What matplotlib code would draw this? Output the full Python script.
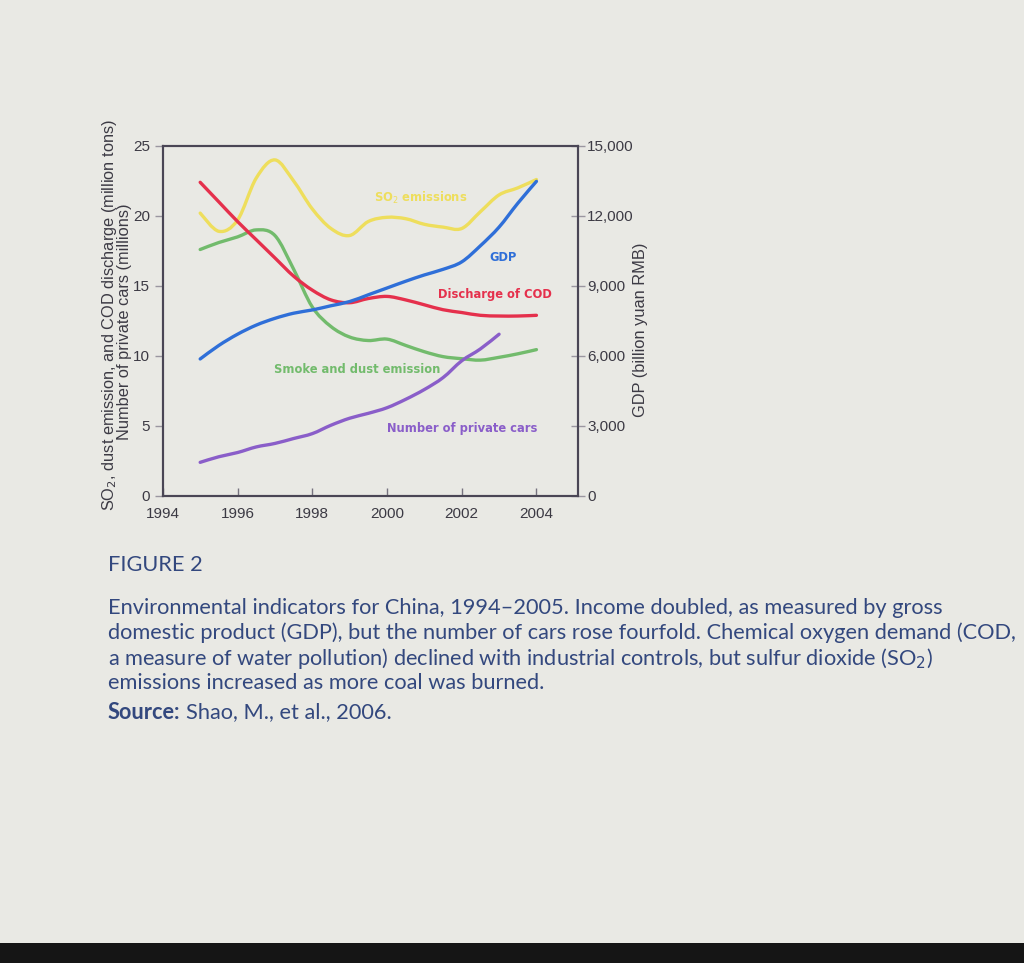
import matplotlib
matplotlib.use("Agg")
import matplotlib.pyplot as plt
from matplotlib.patches import Rectangle, PathPatch
from matplotlib.path import Path
import numpy as np

# ---------------- data ----------------
years_h = [1995.0, 1995.5, 1996.0, 1996.5, 1997.0, 1997.5, 1998.0, 1998.5, 1999.0,
           1999.5, 2000.0, 2000.5, 2001.0, 2001.5, 2002.0, 2002.5, 2003.0, 2003.5, 2004.0]

so2 = [20.2, 18.9, 19.7, 22.7, 24.0, 22.5, 20.5, 19.1, 18.6,
       19.6, 19.9, 19.8, 19.4, 19.2, 19.1, 20.3, 21.5, 22.0, 22.6]

cod = [22.4, 21.0, 19.6, 18.3, 17.0, 15.7, 14.7, 14.0, 13.8,
       14.1, 14.25, 14.0, 13.65, 13.3, 13.1, 12.9, 12.85, 12.85, 12.9]

smoke = [17.6, 18.1, 18.5, 19.0, 18.6, 16.2, 13.5, 12.1, 11.35,
         11.1, 11.2, 10.75, 10.3, 9.95, 9.8, 9.7, 9.9, 10.15, 10.45]

gdp = [5870, 6450, 6930, 7320, 7610, 7830, 7970, 8150, 8330,
       8620, 8910, 9200, 9470, 9710, 10030, 10720, 11520, 12540, 13480]

years_cars = [1995.0, 1995.5, 1996.0, 1996.5, 1997.0, 1997.5, 1998.0, 1998.5, 1999.0,
              1999.5, 2000.0, 2000.5, 2001.0, 2001.5, 2002.0, 2002.5, 2003.0]
cars = [2.4, 2.8, 3.1, 3.5, 3.75, 4.1, 4.45, 5.05, 5.55,
        5.9, 6.3, 6.9, 7.6, 8.45, 9.65, 10.5, 11.55]

x_ticks = [1994, 1996, 1998, 2000, 2002, 2004]
left_ticks = [0, 5, 10, 15, 20, 25]
right_ticks = [0, 3000, 6000, 9000, 12000, 15000]
right_labels = ["0", "3,000", "6,000", "9,000", "12,000", "15,000"]

caption_lines = [
    "Environmental indicators for China, 1994\u20132005. Income doubled, as measured by gross",
    "domestic product (GDP), but the number of cars rose fourfold. Chemical oxygen demand (COD,",
    "a measure of water pollution) declined with industrial controls, but sulfur dioxide (SO$_2$)",
    "emissions increased as more coal was burned.",
]

# ---------------- styling ----------------
BG = "#e9e9e4"
INK = "#4a4655"
C_SO2 = "#eede5c"
C_COD = "#e5304c"
C_SMOKE = "#72bb6c"
C_GDP = "#2f6fd8"
C_CARS = "#8a5ec9"
CAP = "#33487e"


def smooth_curve(a, xs, ys, color, lw=2.4):
    """Draw a smooth (Catmull-Rom style Bezier) curve through the data points."""
    p = np.column_stack([xs, ys]).astype(float)
    n = len(p)
    verts = [tuple(p[0])]
    codes = [Path.MOVETO]
    for i in range(n - 1):
        p0 = p[i - 1] if i > 0 else p[i]
        p1 = p[i]
        p2 = p[i + 1]
        p3 = p[i + 2] if i + 2 < n else p[i + 1]
        c1 = p1 + (p2 - p0) / 6.0
        c2 = p2 - (p3 - p1) / 6.0
        verts += [tuple(c1), tuple(c2), tuple(p2)]
        codes += [Path.CURVE4] * 3
    patch = PathPatch(Path(verts, codes), facecolor="none", edgecolor=color,
                      lw=lw, capstyle="round", joinstyle="round",
                      transform=a.transData)
    a.add_patch(patch)


fig = plt.figure(figsize=(10.24, 9.63), dpi=100, facecolor=BG)
fig.patches.append(Rectangle((0, 0), 1, 20 / 963, transform=fig.transFigure,
                             facecolor="#151515", edgecolor="none", zorder=0))

ax = fig.add_axes([0.159, 0.485, 0.405, 0.3635])
ax.set_facecolor(BG)
ax.patch.set_alpha(0)
ax2 = ax.twinx()

ax.set_xlim(1994, 2005.1)
ax.set_ylim(0, 25)
ax2.set_ylim(0, 15000)

smooth_curve(ax, years_h, so2, C_SO2)
smooth_curve(ax, years_h, smoke, C_SMOKE)
smooth_curve(ax, years_h, cod, C_COD)
smooth_curve(ax, years_cars, cars, C_CARS)
smooth_curve(ax2, years_h, gdp, C_GDP)

for a in (ax, ax2):
    for s in a.spines.values():
        s.set_color(INK)
        s.set_linewidth(1.5)

tick_font = dict(family=["Liberation Sans", "DejaVu Sans"], size=11)
ax.set_xticks(x_ticks)
ax.set_xticklabels([str(v) for v in x_ticks], color="#3c3a44", **tick_font)
ax.set_yticks(left_ticks)
ax.set_yticklabels([str(v) for v in left_ticks], color="#3c3a44", **tick_font)
ax2.set_yticks(right_ticks)
ax2.set_yticklabels(right_labels, color="#3c3a44", **tick_font)

ax.tick_params(axis="x", direction="in", length=6, width=1, color="#77737f", pad=8)
ax.tick_params(axis="y", direction="out", length=6, width=1, color="#9a96a0", pad=3)
ax2.tick_params(axis="y", direction="inout", length=10, width=1, color="#9a96a0", pad=2)

lab_font = dict(family=["Liberation Sans", "DejaVu Sans"], size=11.8, color="#3c3a44")
fig.text(110 / 1024, 1 - 315 / 963, "SO$_2$, dust emission, and COD discharge (million tons)",
         rotation=90, ha="center", va="center", **lab_font)
fig.text(125 / 1024, 1 - 322 / 963, "Number of private cars (millions)",
         rotation=90, ha="center", va="center", **lab_font)
fig.text(640 / 1024, 1 - 330 / 963, "GDP (billion yuan RMB)",
         rotation=90, ha="center", va="center", **lab_font)

name_font = dict(family=["Liberation Sans Narrow", "DejaVu Sans"], weight="bold", size=8.3)
ax.text(2000.9, 21.25, "SO$_2$ emissions", color=C_SO2, ha="center", va="center", **name_font)
ax.text(2003.1, 17.0, "GDP", color=C_GDP, ha="center", va="center", **name_font)
ax.text(2002.9, 14.4, "Discharge of COD", color=C_COD, ha="center", va="center", **name_font)
ax.text(1999.2, 9.05, "Smoke and dust emission", color=C_SMOKE, ha="center", va="center", **name_font)
ax.text(2002.0, 4.8, "Number of private cars", color=C_CARS, ha="center", va="center", **name_font)

# ---------------- caption ----------------
cap_font = dict(family=["Lato", "DejaVu Sans"], size=15.7, color=CAP)
x0 = 108 / 1024
fig.text(x0, 1 - 565 / 963, "FIGURE 2", va="center", ha="left", **cap_font)
ys = [608, 633, 658, 683]
for y, line in zip(ys, caption_lines):
    fig.text(x0, 1 - y / 963, line, va="center", ha="left", **cap_font)
src = fig.text(x0, 1 - 712 / 963, "Source:", va="center", ha="left", weight="bold", **cap_font)
renderer = fig.canvas.get_renderer()
bb = src.get_window_extent(renderer=renderer)
fig.text((bb.x1 + 5) / (fig.get_figwidth() * fig.dpi), 1 - 712 / 963,
         "Shao, M., et al., 2006.", va="center", ha="left", **cap_font)

fig.savefig("out.png", dpi=100, facecolor=BG)
